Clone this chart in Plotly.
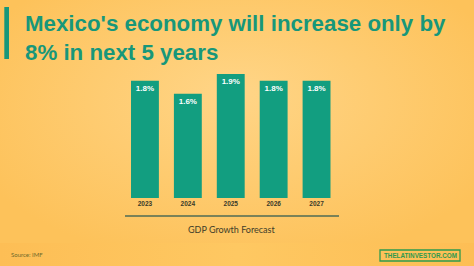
import plotly.graph_objects as go
import urllib.parse

years = ["2023", "2024", "2025", "2026", "2027"]
growth = [1.8, 1.6, 1.9, 1.8, 1.8]
value_labels = ["1.8%", "1.6%", "1.9%", "1.8%", "1.8%"]
title_text = "Mexico's economy will increase only by<br>8% in next 5 years"
xaxis_title = "GDP Growth Forecast"
source_text = "Source: IMF"
brand_text = "THELATINVESTOR.COM"

W, H = 474, 266
def px(x): return x / W
def py(y): return (H - y) / H

TEAL = "#129E80"
TITLE_C = "#17977A"
BG = "#FDC662"

svg = (
    f'<svg xmlns="http://www.w3.org/2000/svg" width="{W}" height="{H}" viewBox="0 0 {W} {H}">'
    '<defs><radialGradient id="g" cx="0.5" cy="0.4" r="0.6" fx="0.5" fy="0.35">'
    '<stop offset="0" stop-color="#FFD587"/><stop offset="1" stop-color="#FDC25A"/>'
    '</radialGradient>'
    '<linearGradient id="f" x1="0" y1="0" x2="1" y2="0">'
    '<stop offset="0" stop-color="#FDBE55"/><stop offset="0.5" stop-color="#FEC862"/>'
    '<stop offset="1" stop-color="#FDBE55"/></linearGradient></defs>'
    f'<rect width="{W}" height="{H}" fill="url(#g)"/>'
    f'<rect y="243" width="{W}" height="{H-243}" fill="url(#f)"/>'
    '</svg>'
)
bg_src = "data:image/svg+xml;charset=utf-8," + urllib.parse.quote(svg)

fig = go.Figure()
fig.add_trace(go.Bar(
    x=years, y=growth, text=value_labels,
    marker=dict(color=TEAL, line=dict(width=0)),
    textposition="inside", insidetextanchor="end",
    textfont=dict(family="Liberation Sans", size=8, color="white", weight="bold"),
    textangle=0, cliponaxis=False, hoverinfo="skip",
))

fig.update_layout(
    width=W, height=H,
    margin=dict(l=0, r=0, t=0, b=0),
    paper_bgcolor=BG, plot_bgcolor="rgba(0,0,0,0)",
    bargap=0.35, showlegend=False,
    xaxis=dict(domain=[px(123.5), px(338)], showgrid=False, zeroline=False,
               showline=False, ticks="", fixedrange=True,
               tickfont=dict(family="Liberation Sans", size=6.5, color="#3a3a2a", weight="bold")),
    yaxis=dict(domain=[py(198), py(67.6)], range=[0, 2.0], visible=False,
               showgrid=False, zeroline=False),
    font=dict(family="Liberation Sans"),
    images=[dict(source=bg_src, xref="paper", yref="paper", x=0, y=1, sizex=1, sizey=1,
                 xanchor="left", yanchor="top", sizing="stretch", layer="below")],
)

shapes = [
    dict(type="rect", xref="paper", yref="paper", x0=px(4.3), x1=px(9), y0=py(59), y1=py(7),
         fillcolor=TITLE_C, line=dict(width=0)),
    dict(type="line", xref="paper", yref="paper", x0=px(125), x1=px(339), y0=py(216), y1=py(216),
         line=dict(color="#4E6B55", width=1.5)),
    dict(type="rect", xref="paper", yref="paper", x0=px(380), x1=px(460), y0=py(261), y1=py(250),
         line=dict(color="#2E9A4E", width=1.3), fillcolor="rgba(0,0,0,0)"),
]
fig.update_layout(shapes=shapes)

fig.add_annotation(text=title_text, xref="paper", yref="paper", x=px(22.5), y=py(8.5),
                   xanchor="left", yanchor="top", align="left", showarrow=False,
                   font=dict(family="Liberation Sans", size=22.3, color=TITLE_C, weight="bold"))
fig.add_annotation(text=xaxis_title, xref="paper", yref="paper", x=px(231), y=py(229),
                   xanchor="center", yanchor="middle", showarrow=False,
                   font=dict(family="Lato", size=9, color="#3d3d2a"))
fig.add_annotation(text=source_text, xref="paper", yref="paper", x=px(9), y=py(254.5),
                   xanchor="left", yanchor="middle", showarrow=False,
                   font=dict(family="Lato", size=6, color="#6E6A2A"))
fig.add_annotation(text=brand_text, xref="paper", yref="paper", x=px(420), y=py(255.5),
                   xanchor="center", yanchor="middle", showarrow=False,
                   font=dict(family="Liberation Sans", size=6.3, color="#2E9A4E", weight="bold"))

fig.write_html("out.html")
